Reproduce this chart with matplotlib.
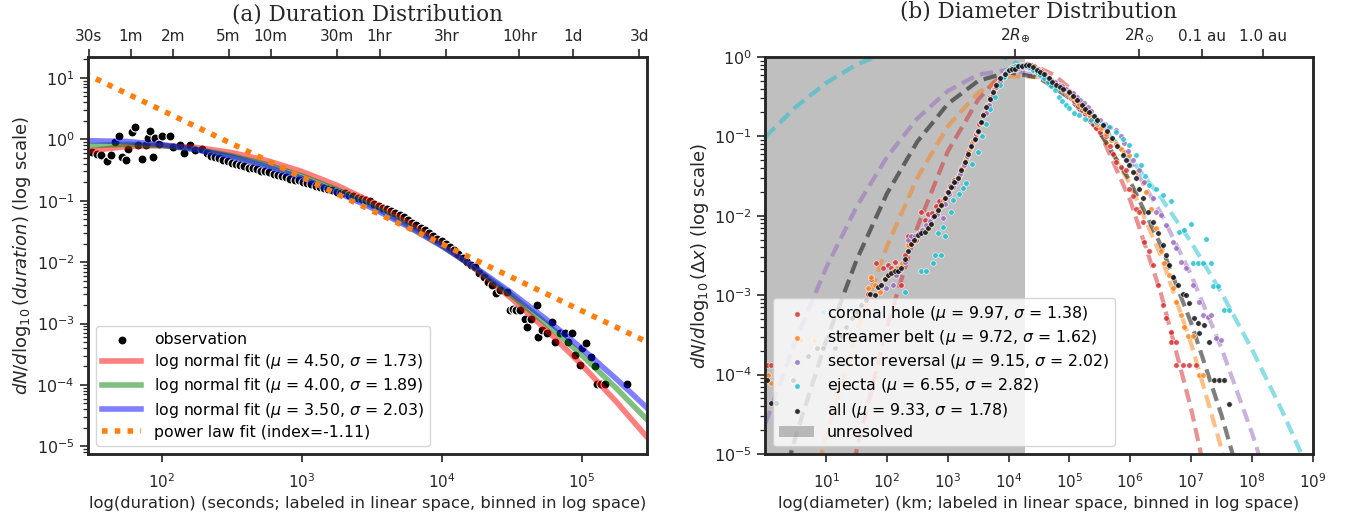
import matplotlib
matplotlib.use("Agg")
import numpy as np
import matplotlib.pyplot as plt
from matplotlib.patches import Patch
from matplotlib.ticker import NullLocator

# ---------------- (a) duration distribution ----------------
# observation points: log10(duration / s), log10(dN/dlog10 duration)
obs_logdur = [
    1.500, 1.536, 1.566, 1.607, 1.638, 1.666, 1.695, 1.714, 1.743, 1.761,
    1.786, 1.809, 1.829, 1.857, 1.886, 1.900, 1.916, 1.940, 1.952, 1.981,
    2.000, 2.059, 2.083, 2.131, 2.162, 2.202, 2.240, 2.286, 2.320, 2.35,
    2.38, 2.41, 2.44, 2.47, 2.50, 2.53, 2.56, 2.59, 2.62, 2.65,
    2.68, 2.71, 2.74, 2.77, 2.80, 2.83, 2.86, 2.89, 2.92, 2.95,
    2.98, 3.01, 3.04, 3.07, 3.10, 3.13, 3.16, 3.19, 3.22, 3.25,
    3.28, 3.31, 3.34, 3.37, 3.40, 3.43, 3.46, 3.49, 3.52, 3.55,
    3.58, 3.61, 3.64, 3.67, 3.70, 3.73, 3.76, 3.79, 3.82, 3.85,
    3.88, 3.91, 3.94, 3.97, 4.00, 4.03, 4.06, 4.09, 4.12, 4.15,
    4.18, 4.21, 4.24, 4.27, 4.30, 4.33, 4.36, 4.39, 4.42, 4.464,
    4.488, 4.511, 4.535, 4.560, 4.595, 4.607, 4.640, 4.679, 4.690, 4.720,
    4.750, 4.786, 4.810, 4.845, 4.880, 4.905, 4.929, 4.952, 4.988, 5.000,
    5.030, 5.071, 5.095, 5.107, 5.137, 5.166, 5.326,
]
obs_logval = [
    -0.20, -0.24, -0.25, -0.35, -0.26, -0.05, 0.06, -0.28, -0.33, -0.16,
    0.12, 0.20, -0.10, -0.32, -0.10, 0.03, 0.13, -0.28, 0.03, -0.08,
    0.06, 0.06, -0.12, -0.10, -0.23, -0.09, -0.17, -0.16, -0.22, -0.27,
    -0.29, -0.31, -0.34, -0.36, -0.38, -0.40, -0.42, -0.43, -0.46, -0.47,
    -0.49, -0.51, -0.52, -0.54, -0.56, -0.58, -0.60, -0.61, -0.64, -0.66,
    -0.67, -0.69, -0.71, -0.73, -0.76, -0.77, -0.79, -0.81, -0.83, -0.85,
    -0.87, -0.88, -0.91, -0.92, -0.95, -0.97, -0.99, -1.01, -1.05, -1.08,
    -1.12, -1.14, -1.17, -1.20, -1.23, -1.27, -1.31, -1.36, -1.40, -1.44,
    -1.48, -1.53, -1.57, -1.62, -1.66, -1.70, -1.76, -1.81, -1.86, -1.93,
    -1.99, -2.05, -2.08, -2.18, -2.24, -2.32, -2.37, -2.50, -2.45, -2.48,
    -2.78, -2.76, -2.78, -2.78, -2.92, -3.05, -2.92, -2.70, -3.215, -3.10,
    -3.16, -2.97, -3.30, -3.16, -3.16, -3.30, -3.16, -3.51, -3.68, -3.40,
    -3.31, -3.54, -3.70, -3.99, -3.99, -3.99, -3.99,
]

# fitted curves (x in log10 seconds)
fit_logdur = [1.45, 1.75, 2.0, 2.25, 2.5, 2.75, 3.0, 3.25, 3.5, 3.75,
              4.0, 4.25, 4.5, 4.75, 5.0, 5.25, 5.5]
fit_mu45 = [0.634, 0.766, 0.792, 0.735, 0.610, 0.453, 0.301, 0.179, 0.0957, 0.0457,
            0.0195, 0.00745, 0.00255, 7.82e-4, 2.14e-4, 5.26e-5, 1.16e-5]
fit_mu40 = [0.782, 0.832, 0.791, 0.684, 0.541, 0.388, 0.255, 0.152, 0.0828, 0.0412,
            0.0186, 0.00767, 0.00288, 9.89e-4, 3.08e-4, 8.75e-5, 2.28e-5]
fit_mu35 = [0.953, 0.923, 0.824, 0.678, 0.515, 0.361, 0.233, 0.139, 0.0767, 0.0390,
            0.0183, 0.00791, 0.00316, 0.00116, 3.95e-4, 1.24e-4, 3.59e-5]
powerlaw_dur = [28.0, 3.0e5]
powerlaw_val = [11.9, 4.9e-4]

dur_ticks = [30, 60, 120, 300, 600, 1800, 3600, 10800, 36000, 86400, 259200]
dur_labels = ["30s", "1m", "2m", "5m", "10m", "30m", "1hr", "3hr", "10hr", "1d", "3d"]

# ---------------- (b) diameter distribution ----------------
# points: log10(diameter / km), log10(dN/dlog10 dx)
hole_x = [
    0.02, 0.10, 1.685, 1.74, 1.822, 1.932, 2.014, 2.07, 2.124, 2.18,
    2.234, 2.29, 2.343, 2.426, 2.48, 2.562, 2.62, 2.68, 2.74, 2.80,
    2.86, 2.92, 2.98, 3.04, 3.10, 3.16, 3.22, 3.28, 3.34, 3.40,
    3.46, 3.52, 3.58, 3.64, 3.70, 3.76, 3.82, 3.88, 3.94, 4.00,
    4.06, 4.12, 4.18, 4.24, 4.30, 4.36, 4.42, 4.48, 4.54, 4.60,
    4.66, 4.72, 4.78, 4.84, 4.90, 4.96, 5.02, 5.08, 5.14, 5.20,
    5.26, 5.32, 5.38, 5.44, 5.50, 5.60, 5.66, 5.72, 5.765, 5.84,
    5.929, 5.984, 6.04, 6.094, 6.15, 6.203, 6.23, 6.312, 6.367, 6.449,
    6.532, 6.587, 6.669, 6.669, 6.751, 6.751, 6.86, 6.97, 7.08,
]
hole_y = [
    -3.88, -3.88, -2.98, -2.80, -2.60, -2.66, -2.62, -2.66, -2.58, -2.70,
    -2.87, -2.50, -2.26, -2.26, -2.30, -1.95, -2.05, -1.98, -1.96, -1.88,
    -1.82, -1.80, -1.70, -1.62, -1.55, -1.50, -1.40, -1.32, -1.20, -1.08,
    -0.97, -0.85, -0.72, -0.60, -0.50, -0.40, -0.33, -0.25, -0.20, -0.16,
    -0.13, -0.11, -0.10, -0.10, -0.09, -0.10, -0.12, -0.15, -0.18, -0.22,
    -0.26, -0.30, -0.34, -0.38, -0.42, -0.47, -0.52, -0.56, -0.62, -0.67,
    -0.72, -0.78, -0.84, -0.90, -0.95, -0.99, -1.12, -1.22, -1.32, -1.38,
    -1.43, -1.66, -1.75, -1.91, -1.95, -2.08, -2.33, -2.45, -2.62, -2.87,
    -3.12, -3.29, -3.46, -3.59, -3.59, -3.88, -3.88, -3.88, -3.88,
]
belt_x = [
    0.05, 0.095, 0.584, 0.80, 1.685, 1.74, 1.795, 1.877, 1.95, 2.03,
    2.10, 2.17, 2.24, 2.343, 2.40, 2.46, 2.52, 2.58, 2.64, 2.70,
    2.76, 2.82, 2.88, 2.94, 3.00, 3.06, 3.12, 3.18, 3.24, 3.30,
    3.36, 3.42, 3.48, 3.54, 3.60, 3.66, 3.72, 3.78, 3.84, 3.90,
    3.96, 4.02, 4.08, 4.14, 4.20, 4.26, 4.32, 4.38, 4.44, 4.50,
    4.56, 4.62, 4.68, 4.74, 4.80, 4.86, 4.92, 4.98, 5.04, 5.10,
    5.16, 5.22, 5.28, 5.34, 5.40, 5.46, 5.52, 5.60, 5.68, 5.76,
    5.84, 5.90, 5.984, 6.094, 6.203, 6.258, 6.341, 6.423, 6.505, 6.559,
    6.641, 6.696, 6.751, 6.834, 6.888, 6.943, 7.025, 7.135, 7.189,
]
belt_y = [
    -4.00, -4.11, -3.56, -3.56, -2.91, -2.77, -2.87, -2.96, -2.80, -2.75,
    -2.70, -2.66, -2.60, -2.37, -2.35, -2.28, -2.22, -2.20, -2.16, -2.10,
    -2.02, -1.95, -1.88, -1.79, -1.71, -1.65, -1.58, -1.50, -1.40, -1.28,
    -1.16, -1.06, -0.95, -0.83, -0.70, -0.60, -0.49, -0.39, -0.31, -0.24,
    -0.20, -0.17, -0.15, -0.13, -0.12, -0.12, -0.12, -0.13, -0.15, -0.18,
    -0.21, -0.24, -0.28, -0.32, -0.35, -0.38, -0.41, -0.45, -0.50, -0.54,
    -0.59, -0.64, -0.69, -0.75, -0.80, -0.85, -0.90, -0.97, -1.04, -1.10,
    -1.16, -1.20, -1.24, -1.45, -1.59, -1.70, -1.91, -2.16, -2.45, -2.60,
    -2.75, -2.91, -3.08, -3.25, -3.40, -3.52, -3.52, -4.00, -4.00,
]
sector_x = [
    1.987, 2.097, 2.15, 2.22, 2.288, 2.343, 2.40, 2.46, 2.52, 2.58,
    2.64, 2.70, 2.76, 2.82, 2.919, 2.96, 3.02, 3.08, 3.14, 3.20,
    3.26, 3.32, 3.38, 3.44, 3.50, 3.56, 3.62, 3.68, 3.74, 3.80,
    3.86, 3.92, 3.98, 4.04, 4.10, 4.16, 4.22, 4.28, 4.34, 4.40,
    4.46, 4.52, 4.58, 4.64, 4.70, 4.76, 4.82, 4.88, 4.94, 5.00,
    5.06, 5.12, 5.18, 5.24, 5.30, 5.36, 5.436, 5.50, 5.58, 5.66,
    5.765, 5.84, 5.901, 5.96, 6.04, 6.148, 6.23, 6.367, 6.423, 6.505,
    6.587, 6.696, 6.751, 6.834, 6.916, 7.025, 7.135, 7.189, 7.271, 7.327,
    7.409, 7.491,
]
sector_y = [
    -2.91, -2.87, -2.75, -2.68, -2.58, -2.31, -2.25, -2.26, -2.22, -2.18,
    -2.12, -2.07, -2.02, -1.98, -2.03, -1.85, -1.72, -1.64, -1.57, -1.47,
    -1.36, -1.25, -1.14, -1.04, -0.94, -0.82, -0.71, -0.60, -0.48, -0.38,
    -0.30, -0.24, -0.20, -0.17, -0.15, -0.14, -0.13, -0.13, -0.14, -0.16,
    -0.18, -0.21, -0.24, -0.27, -0.29, -0.32, -0.35, -0.37, -0.40, -0.43,
    -0.46, -0.50, -0.54, -0.58, -0.63, -0.68, -0.78, -0.80, -0.84, -0.88,
    -0.92, -1.00, -1.09, -1.18, -1.30, -1.43, -1.57, -1.78, -1.95, -1.99,
    -2.12, -2.33, -2.41, -2.58, -2.66, -2.87, -3.08, -3.25, -3.27, -3.25,
    -3.54, -3.56,
]
ejecta_x = [
    0.945, 2.288, 2.562, 2.645, 2.755, 2.782, 2.837, 2.891, 2.919, 2.946,
    3.056, 3.084, 3.18, 3.25, 3.303, 3.40, 3.495, 3.56, 3.62, 3.70,
    3.78, 3.86, 3.92, 3.98, 4.04, 4.10, 4.16, 4.22, 4.28, 4.34,
    4.40, 4.46, 4.52, 4.58, 4.64, 4.70, 4.76, 4.82, 4.88, 4.94,
    5.00, 5.08, 5.161, 5.26, 5.35, 5.436, 5.55, 5.655, 5.76, 5.874,
    5.984, 6.094, 6.176, 6.24, 6.312, 6.423, 6.532, 6.669, 6.806, 6.888,
    6.998, 7.245, 7.025, 7.107, 7.189, 7.327, 7.354, 7.436, 7.546, 7.617,
]
ejecta_y = [
    -3.21, -2.96, -2.70, -2.70, -2.60, -2.49, -2.22, -2.49, -2.14, -2.26,
    -1.95, -1.80, -1.72, -1.65, -1.59, -1.35, -1.20, -1.00, -0.85, -0.66,
    -0.50, -0.35, -0.25, -0.18, -0.14, -0.12, -0.11, -0.10, -0.11, -0.13,
    -0.16, -0.19, -0.23, -0.27, -0.31, -0.36, -0.42, -0.50, -0.55, -0.60,
    -0.64, -0.70, -0.73, -0.78, -0.80, -0.82, -0.85, -0.88, -0.95, -1.03,
    -1.11, -1.24, -1.36, -1.50, -1.61, -1.66, -1.74, -1.82, -2.20, -2.18,
    -2.10, -2.29, -2.60, -2.60, -2.60, -2.60, -2.89, -2.89, -3.19, -3.19,
]
all_x = [
    0.03, 0.10, 0.17, 0.45, 0.70, 0.85, 0.95, 1.05, 1.15, 1.25,
    1.33, 1.42, 1.50, 1.58, 1.65, 1.72, 1.80, 1.86, 1.905, 1.96,
    2.014, 2.07, 2.124, 2.18, 2.234, 2.29, 2.343, 2.40, 2.45, 2.508,
    2.56, 2.617, 2.67, 2.727, 2.78, 2.84, 2.891, 2.95, 3.001, 3.06,
    3.11, 3.166, 3.22, 3.275, 3.33, 3.385, 3.439, 3.49, 3.54, 3.577,
    3.63, 3.69, 3.741, 3.80, 3.86, 3.933, 4.00, 4.05, 4.097, 4.16,
    4.22, 4.28, 4.339, 4.40, 4.46, 4.52, 4.58, 4.668, 4.72, 4.78,
    4.84, 4.90, 4.997, 5.06, 5.12, 5.20, 5.26, 5.326, 5.40, 5.46,
    5.544, 5.62, 5.70, 5.78, 5.874, 5.93, 5.984, 6.04, 6.094, 6.15,
    6.203, 6.285, 6.367, 6.45, 6.532, 6.587, 6.641, 6.696, 6.778, 6.86,
    6.916, 6.97, 7.053, 7.107, 7.135, 7.217, 7.299, 7.382, 7.464, 7.546,
    7.617,
]
all_y = [
    -4.07, -4.36, -4.36, -4.07, -3.77, -3.66, -3.66, -3.52, -3.66, -3.52,
    -3.40, -3.29, -3.21, -3.12, -3.06, -2.98, -3.00, -2.90, -2.87, -2.80,
    -2.75, -2.72, -2.70, -2.69, -2.66, -2.55, -2.45, -2.35, -2.30, -2.24,
    -2.22, -2.20, -2.15, -2.10, -2.00, -1.93, -1.87, -1.78, -1.70, -1.64,
    -1.58, -1.53, -1.43, -1.32, -1.22, -1.12, -1.03, -0.93, -0.82, -0.73,
    -0.63, -0.53, -0.44, -0.35, -0.27, -0.21, -0.17, -0.15, -0.15, -0.12,
    -0.11, -0.10, -0.10, -0.13, -0.16, -0.19, -0.22, -0.27, -0.31, -0.35,
    -0.38, -0.40, -0.44, -0.49, -0.54, -0.60, -0.65, -0.69, -0.75, -0.80,
    -0.86, -0.93, -1.02, -1.12, -1.24, -1.30, -1.36, -1.45, -1.53, -1.66,
    -1.78, -1.95, -2.08, -2.22, -2.37, -2.49, -2.62, -2.77, -2.87, -2.98,
    -3.00, -3.10, -3.29, -3.35, -3.48, -3.38, -3.59, -4.07, -4.07, -4.07,
    -4.37,
]

# dashed fit curves, x in log10 km
hole_fit_x = [1.0, 1.5, 2.0, 2.5, 3.0, 3.5, 3.75, 4.0, 4.25, 4.5, 4.75, 5.0, 5.5, 6.0, 6.5, 7.0, 7.5]
hole_fit_y = [1.5e-7, 1.10e-5, 3.98e-4, 7.18e-3, 0.0647, 0.291, 0.475, 0.652, 0.752, 0.729,
              0.593, 0.406, 0.113, 0.0156, 1.08e-3, 3.72e-5, 6.4e-7]
belt_fit_x = [0.5, 1.0, 1.5, 2.0, 2.5, 3.0, 3.5, 4.0, 4.5, 5.0, 5.5, 6.0, 6.5, 7.0, 7.5, 8.0]
belt_fit_y = [5.1e-7, 1.69e-5, 3.40e-4, 4.13e-3, 0.0303, 0.1337, 0.356, 0.574, 0.557, 0.3266,
              0.1154, 0.0247, 3.17e-3, 2.47e-4, 1.16e-5, 3.3e-7]
sector_fit_x = [0.0, 0.5, 1.0, 1.5, 2.0, 2.5, 3.0, 3.5, 4.0, 4.5, 5.0, 5.5, 6.0, 6.5, 7.0, 7.5, 8.0, 8.5]
sector_fit_y = [2.42e-5, 2.72e-4, 2.21e-3, 0.01297, 0.0550, 0.1687, 0.3735, 0.598, 0.692, 0.578,
                0.349, 0.1524, 0.0481, 0.01094, 1.80e-3, 2.14e-4, 1.85e-5, 1.15e-6]
ejecta_fit_x = [0.0, 0.5, 1.0, 1.5, 2.0, 2.5, 3.0, 3.5, 4.0, 4.5, 5.0, 5.5, 6.0, 6.5, 7.0, 7.5, 8.0, 8.5, 9.0]
ejecta_fit_y = [0.0986, 0.2344, 0.471, 0.802, 1.155, 1.409, 1.454, 1.270, 0.9395, 0.588,
                0.312, 0.1397, 0.0531, 0.01706, 4.65e-3, 1.07e-3, 2.08e-4, 3.44e-5, 4.81e-6]
all_fit_x = [0.0, 0.5, 1.0, 1.5, 2.0, 2.5, 3.0, 3.5, 4.0, 4.5, 5.0, 5.5, 6.0, 6.5, 7.0, 7.5, 8.0]
all_fit_y = [7.0e-7, 1.68e-5, 2.66e-4, 2.77e-3, 0.01905, 0.0861, 0.256, 0.5003, 0.644, 0.546,
             0.304, 0.1117, 0.027, 4.29e-3, 4.49e-4, 3.08e-5, 1.4e-6]

unresolved_km = 1.83e4
size_ticks = [2 * 6371.0, 2 * 696000.0, 1.496e7, 1.496e8]
size_labels = [r"$2R_{\oplus}$", r"$2R_{\odot}$", "0.1 au", "1.0 au"]

INK = "0.15"
plt.rcParams.update({
    "font.family": "DejaVu Sans",
    "font.size": 11.5,
    "mathtext.fontset": "dejavusans",
    "axes.edgecolor": INK,
    "axes.labelcolor": INK,
    "axes.linewidth": 1.8,
    "xtick.color": INK,
    "ytick.color": INK,
    "xtick.labelsize": 11,
    "ytick.labelsize": 11.5,
    "xtick.major.size": 6,
    "ytick.major.size": 6,
    "ytick.minor.size": 3.5,
    "xtick.major.width": 1.2,
    "ytick.major.width": 1.2,
    "ytick.minor.width": 0.9,
    "legend.fontsize": 11.3,
    "legend.labelspacing": 0.33,
})


def add_top(ax, ticks, labels, title):
    top = ax.twiny()
    top.set_xscale("log")
    top.set_xlim(ax.get_xlim())
    top.set_xticks(ticks, labels)
    top.xaxis.set_minor_locator(NullLocator())
    top.set_title(title, family="DejaVu Serif", fontsize=15.5, color=INK)
    return top


def label_axes(ax, xlabel, ylabel):
    ax.tick_params(axis="x", which="major", pad=7.5)
    ax.set_xlabel(xlabel, fontsize=11.8, labelpad=3.5)
    ax.set_ylabel(ylabel, fontsize=13, labelpad=2)


def main():
    fig = plt.figure(figsize=(13.46, 5.2), dpi=100)
    ax1 = fig.add_axes([0.0652, 0.127, 0.4157, 0.7635])
    ax2 = fig.add_axes([0.5686, 0.127, 0.4067, 0.7635])

    # ----- left panel -----
    ax1.set_xscale("log")
    ax1.set_yscale("log")
    ax1.scatter(np.power(10.0, obs_logdur), np.power(10.0, obs_logval), s=42,
                c="black", edgecolors="white", linewidths=0.8, zorder=2,
                label="observation")
    fit_x = np.power(10.0, fit_logdur)
    ax1.plot(fit_x, fit_mu45, color="red", lw=4, alpha=0.5, zorder=3,
             label=r"log normal fit ($\mu$ = 4.50, $\sigma$ = 1.73)")
    ax1.plot(fit_x, fit_mu40, color="green", lw=4, alpha=0.5, zorder=3,
             label=r"log normal fit ($\mu$ = 4.00, $\sigma$ = 1.89)")
    ax1.plot(fit_x, fit_mu35, color="blue", lw=4, alpha=0.5, zorder=3,
             label=r"log normal fit ($\mu$ = 3.50, $\sigma$ = 2.03)")
    ax1.plot(powerlaw_dur, powerlaw_val, color="tab:orange", lw=4,
             linestyle=(0, (1, 1.3)), zorder=3,
             label="power law fit (index=-1.11)")
    ax1.set_xlim(29.6, 2.95e5)
    ax1.set_ylim(7.5e-6, 22)
    ax1.set_xticks([1e2, 1e3, 1e4, 1e5])
    ax1.set_yticks([1e-5, 1e-4, 1e-3, 1e-2, 1e-1, 1e0, 1e1])
    ax1.xaxis.set_minor_locator(NullLocator())
    label_axes(ax1, "log(duration) (seconds; labeled in linear space, binned in log space)",
               r"$dN/d\log_{10}(duration)$ (log scale)")
    ax1.legend(loc="lower left", handlelength=2.5)
    add_top(ax1, dur_ticks, dur_labels, "(a) Duration Distribution")

    # ----- right panel -----
    ax2.set_xscale("log")
    ax2.set_yscale("log")
    ax2.axvspan(1, unresolved_km, color="gray", alpha=0.5, lw=0, zorder=0)

    fits = [
        (hole_fit_x, hole_fit_y, "tab:red"),
        (belt_fit_x, belt_fit_y, "tab:orange"),
        (sector_fit_x, sector_fit_y, "tab:purple"),
        (ejecta_fit_x, ejecta_fit_y, "tab:cyan"),
        (all_fit_x, all_fit_y, "black"),
    ]
    for fx, fy, col in fits:
        ax2.plot(np.power(10.0, fx), fy, color=col, lw=3, alpha=0.5,
                 linestyle=(0, (3.2, 1.6)), zorder=2)

    groups = [
        (hole_x, hole_y, "tab:red", r"coronal hole ($\mu$ = 9.97, $\sigma$ = 1.38)"),
        (belt_x, belt_y, "tab:orange", r"streamer belt ($\mu$ = 9.72, $\sigma$ = 1.62)"),
        (sector_x, sector_y, "tab:purple", r"sector reversal ($\mu$ = 9.15, $\sigma$ = 2.02)"),
        (ejecta_x, ejecta_y, "tab:cyan", r"ejecta ($\mu$ = 6.55, $\sigma$ = 2.82)"),
        (all_x, all_y, "black", r"all ($\mu$ = 9.33, $\sigma$ = 1.78)"),
    ]
    handles = []
    for gx, gy, col, lab in groups:
        h = ax2.scatter(np.power(10.0, gx), np.power(10.0, gy), s=16, color=col,
                        edgecolors="white", linewidths=0.5, alpha=0.8, zorder=3,
                        label=lab)
        handles.append(h)
    handles.append(Patch(facecolor="gray", alpha=0.5, label="unresolved"))

    ax2.set_xlim(1, 1e9)
    ax2.set_ylim(1e-5, 1)
    ax2.set_xticks([1e1, 1e2, 1e3, 1e4, 1e5, 1e6, 1e7, 1e8, 1e9])
    ax2.set_yticks([1e-5, 1e-4, 1e-3, 1e-2, 1e-1, 1e0])
    ax2.xaxis.set_minor_locator(NullLocator())
    label_axes(ax2, "log(diameter) (km; labeled in linear space, binned in log space)",
               r"$dN/d\log_{10}(\Delta x)$ (log scale)")
    ax2.legend(handles=handles, loc="lower left", handlelength=2.2)
    add_top(ax2, size_ticks, size_labels, "(b) Diameter Distribution")

    fig.savefig("out.png", dpi=100)
    plt.close(fig)


if __name__ == "__main__":
    main()
